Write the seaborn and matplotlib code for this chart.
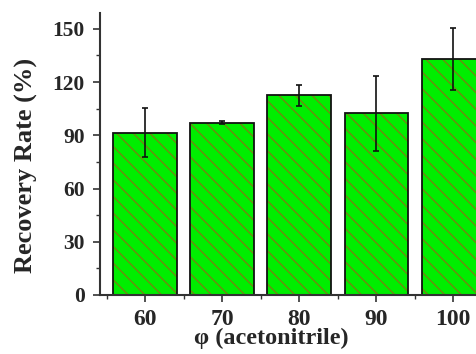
"""Recovery rate vs acetonitrile fraction"""

from matplotlib import pyplot as plt
from matplotlib.ticker import MultipleLocator
import pandas as pd
import seaborn as sns

phi = [60, 70, 80, 90, 100]
recovery = [91.5, 97.0, 112.5, 102.3, 133.0]
error = [14.0, 0.8, 6.0, 21.0, 17.5]

datos = pd.DataFrame({'phi': phi, 'recovery': recovery})

sns.set_style('ticks')
plt.rcParams['font.family'] = ['Liberation Serif', 'DejaVu Serif']
plt.rcParams['font.weight'] = 'bold'
plt.rcParams['hatch.linewidth'] = 1.0

fig = plt.figure(figsize=(4.76, 3.54), dpi=100)
ax = fig.add_axes([0.21, 0.1667, 0.839, 0.797])

# capa de relleno con rayado
sns.barplot(
    x          = 'phi',
    y          = 'recovery',
    data       = datos,
    native_scale = True,
    width      = 0.82,
    color      = '#00ee00',
    errorbar   = None,
    ax         = ax
)
for bar in ax.patches:
    bar.set_facecolor('#00ee00')
    bar.set_hatch('\\\\')
    bar.set_edgecolor('#6f8a10')
    bar.set_linewidth(0)

# capa del contorno negro
sns.barplot(
    x          = 'phi',
    y          = 'recovery',
    data       = datos,
    native_scale = True,
    width      = 0.82,
    fill       = False,
    color      = '#111111',
    linewidth  = 1.3,
    errorbar   = None,
    ax         = ax
)

ax.errorbar(phi, recovery, yerr=error, fmt='none', ecolor='#111111',
            elinewidth=1.2, capsize=2.5, capthick=1.2)

ax.set_xlim(54.15, 106)
ax.set_ylim(0, 159)
ax.set_xticks(phi)
ax.set_xticklabels([str(v) for v in phi])
ax.xaxis.set_minor_locator(MultipleLocator(10, offset=5))
ax.yaxis.set_major_locator(MultipleLocator(30))
ax.yaxis.set_minor_locator(MultipleLocator(15))
ax.tick_params(axis='both', which='major', direction='out', length=5,
               width=1.2, color='#333333')
ax.tick_params(axis='both', which='minor', direction='out', length=3,
               width=1.0, color='#333333')
ax.tick_params(axis='x', pad=5, labelsize=17)
ax.tick_params(axis='y', pad=6, labelsize=15.5)

for lado in ['top', 'right']:
    ax.spines[lado].set_visible(False)
for lado in ['left', 'bottom']:
    ax.spines[lado].set_linewidth(1.5)
    ax.spines[lado].set_color('#333333')

ax.set_xlabel('φ (acetonitrile)', fontsize=17.5, fontweight='bold')
ax.set_ylabel('Recovery Rate (%)', fontsize=19, fontweight='bold')
ax.xaxis.set_label_coords((271 - 100) / 399, -0.117)
ax.yaxis.set_label_coords(-0.155, (295 - 166) / 282)

fig.savefig('out.png', dpi=100)
